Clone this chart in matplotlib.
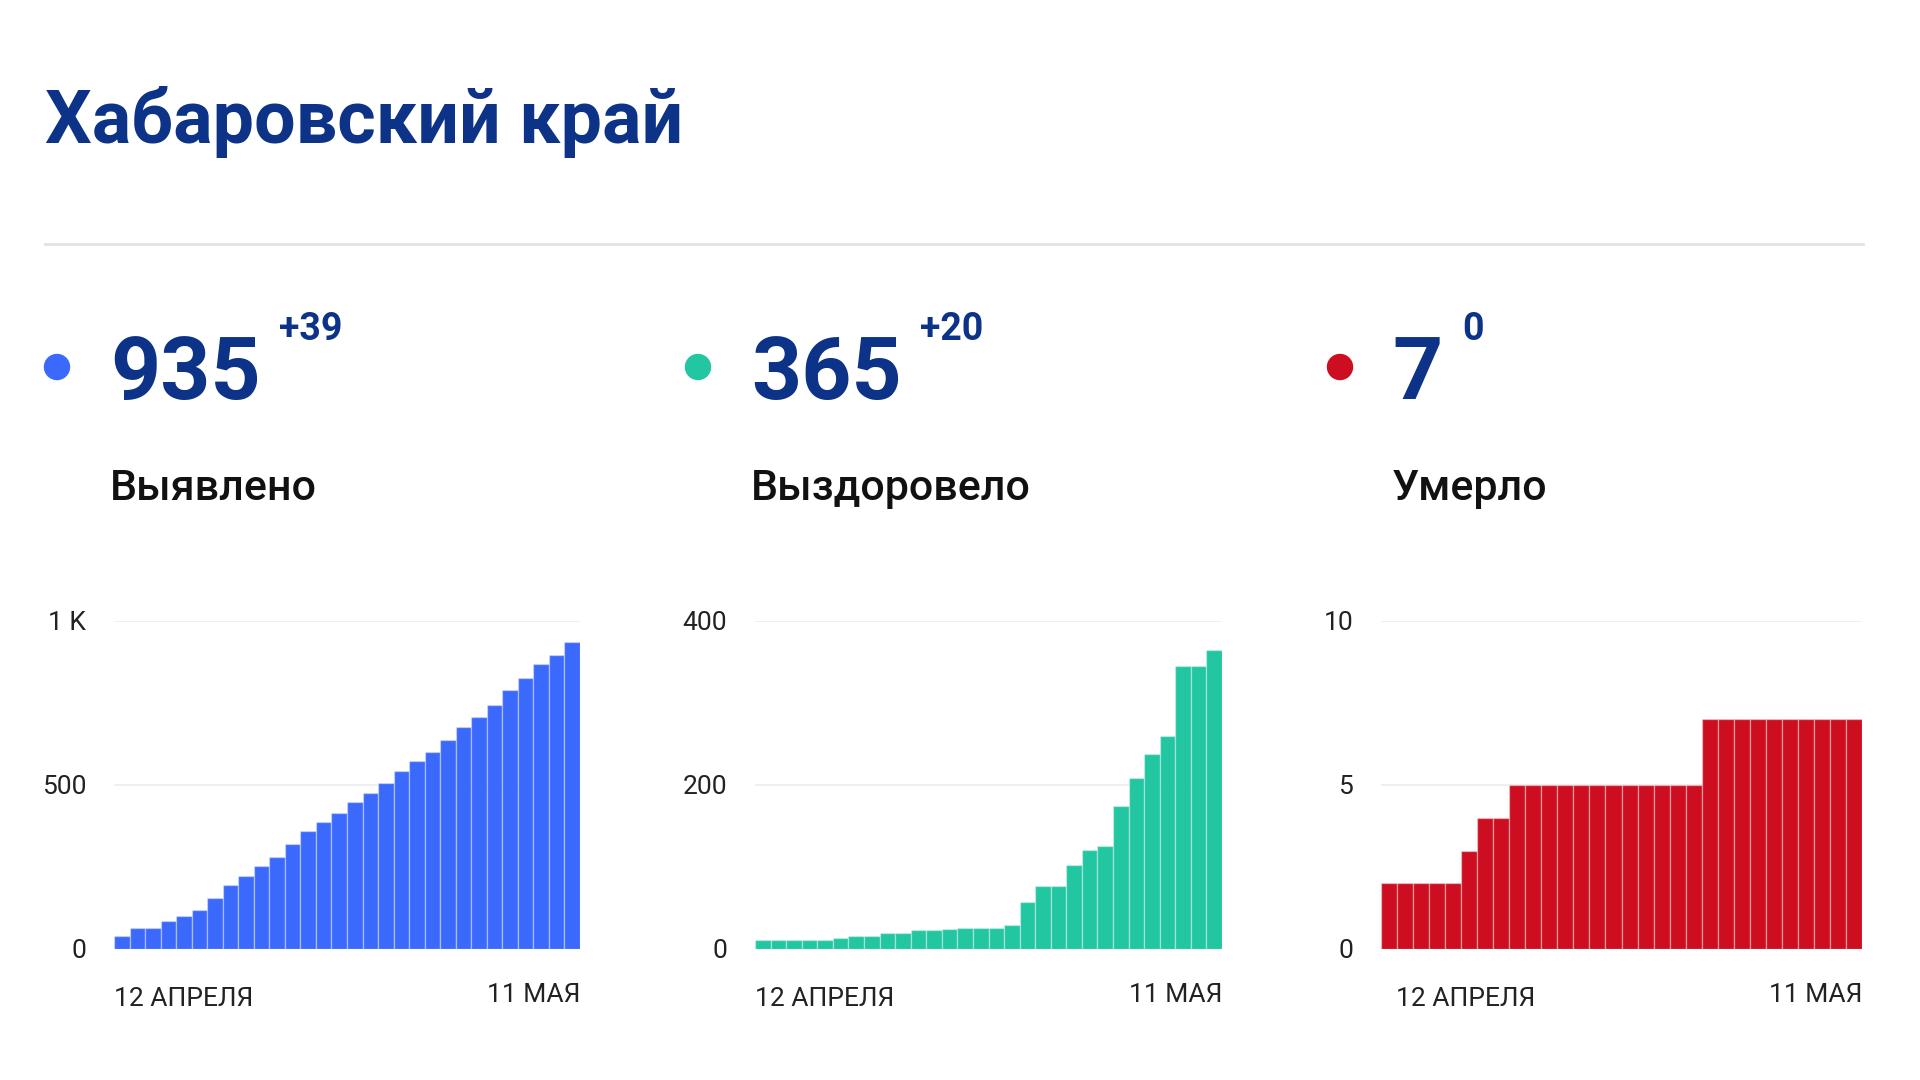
import matplotlib.pyplot as plt
from matplotlib.patches import Ellipse
import numpy as np

plt.rcParams['font.family'] = ['Roboto', 'DejaVu Sans']

# данные: 12 апреля - 11 мая (30 дней)
dates = ["12 АПРЕЛЯ", "11 МАЯ"]
confirmed = [39, 63, 63, 86, 100, 118, 155, 194, 224, 252, 281, 319, 359, 388, 415,
             448, 475, 507, 543, 574, 602, 637, 676, 707, 745, 789, 827, 868, 896, 935]
recovered = [11, 11, 11, 11, 11, 13, 16, 16, 20, 20, 23, 23, 25, 26, 26,
             26, 29, 57, 77, 77, 103, 121, 126, 175, 208, 238, 260, 345, 345, 365]
deaths = [2, 2, 2, 2, 2, 3, 4, 4, 5, 5, 5, 5, 5, 5, 5,
          5, 5, 5, 5, 5, 7, 7, 7, 7, 7, 7, 7, 7, 7, 7]

totals = ["935", "365", "7"]
deltas = ["+39", "+20", "0"]
labels = ["Выявлено", "Выздоровело", "Умерло"]
colors = ["#3a69fb", "#22c6a1", "#cc0e20"]
y_ticks = [[0, 500, 1000], [0, 200, 400], [0, 5, 10]]
y_ticklabels = [["0", "500", "1 K"], ["0", "200", "400"], ["0", "5", "10"]]

NAVY = "#0c3387"
W, H = 1920, 1080

fig = plt.figure(figsize=(19.2, 10.8), dpi=100)
fig.patch.set_facecolor("white")


def fx(px):
    return px / W


def fy(py):
    return 1 - py / H


# заголовок и разделитель
fig.text(fx(45), fy(143), "Хабаровский край", fontsize=53, fontweight="bold",
         color=NAVY, va="baseline")
fig.add_artist(plt.Line2D([fx(45), fx(1863)], [fy(244), fy(244)],
                          color="#e2e2e2", lw=2))

dot_x = [57, 698, 1340]
num_x = [110, 751, 1392]
delta_x = [279, 920, 1462]
axes_x = [(114, 580), (755, 1222), (1381, 1862)]
date_shift = [0, 0, 0.031]

for i in range(3):
    fig.add_artist(Ellipse((fx(dot_x[i]), fy(367)), 25 / W, 25 / H,
                           color=colors[i]))
    fig.text(fx(num_x[i]), fy(399), totals[i], fontsize=63, fontweight="bold",
             color=NAVY, va="baseline")
    fig.text(fx(delta_x[i]), fy(340), deltas[i], fontsize=27, fontweight="bold",
             color=NAVY, va="baseline")
    fig.text(fx(num_x[i]), fy(500), labels[i], fontsize=31, fontweight="medium",
             color="#111111", va="baseline")

series = [confirmed, recovered, deaths]
for i, data in enumerate(series):
    x0, x1 = axes_x[i]
    ax = fig.add_axes([fx(x0), fy(949), fx(x1 - x0), (949 - 621) / H])
    x = np.arange(len(data))
    ax.bar(x, data, width=1.0, color=colors[i], edgecolor=(1, 1, 1, 0.35),
           linewidth=1.0, zorder=3)
    ax.set_xlim(-0.5, len(data) - 0.5)
    ax.set_ylim(0, y_ticks[i][-1])
    ax.set_yticks(y_ticks[i])
    ax.set_yticklabels(y_ticklabels[i])
    ax.tick_params(axis="y", length=0, pad=20, labelsize=19, labelcolor="#222222")
    ax.set_xticks([])
    ax.grid(axis="y", color="#ececec", lw=1.2, zorder=0)
    for s in ax.spines.values():
        s.set_visible(False)
    ax.text(date_shift[i], -0.151, dates[0], transform=ax.transAxes, fontsize=19,
            color="#222222", ha="left", va="center")
    ax.text(1, -0.141, dates[1], transform=ax.transAxes, fontsize=19,
            color="#222222", ha="right", va="center")

fig.savefig("out.png", dpi=100)
